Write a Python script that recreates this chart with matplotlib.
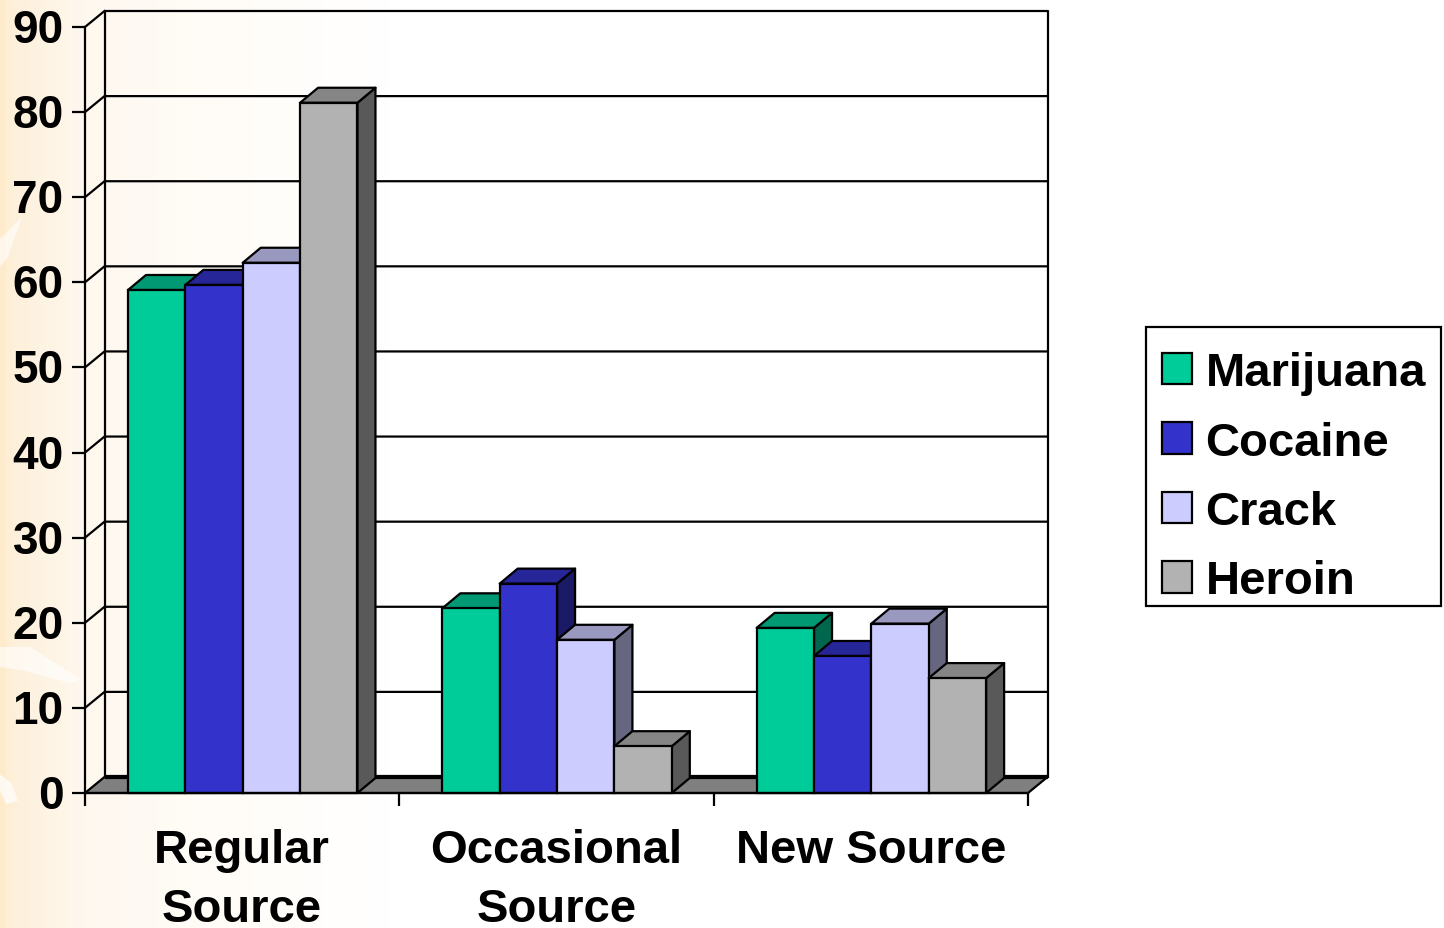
import numpy as np
import matplotlib
matplotlib.use('Agg')
import matplotlib.pyplot as plt
from matplotlib.colors import to_rgb, LinearSegmentedColormap
from matplotlib.patches import Polygon, Patch, Rectangle
from matplotlib.transforms import ScaledTranslation

plt.rcParams['font.family'] = ['Liberation Sans', 'DejaVu Sans']
plt.rcParams['font.weight'] = 'bold'

sources = ['Regular\nSource', 'Occasional\nSource', 'New Source']
drugs = ['Marijuana', 'Cocaine', 'Crack', 'Heroin']
colors = ['#00CC99', '#3333CC', '#CCCCFF', '#B2B2B2']

marijuana = [59.1, 21.7, 19.4]
cocaine = [59.7, 24.6, 16.1]
crack = [62.3, 18.0, 19.9]
heroin = [81.1, 5.5, 13.5]

W, H = 1444, 929
LW = 1.6

fig = plt.figure(figsize=(W / 100, H / 100), dpi=100, facecolor='white')

# cream wash down the left edge of the slide
bg = fig.add_axes([0, 0, 1, 1], zorder=0)
bg.axis('off')
wash = LinearSegmentedColormap.from_list('wash', [(0, '#FDEBCB'), (0.006, '#FDF0DA'), (0.03, '#FEF4E4'),
                                                  (0.058, '#FEF8EF'), (0.12, '#FFFBF5'), (0.175, '#FFFDF9'),
                                                  (0.27, '#FFFFFF'), (1, '#FFFFFF')])
bg.imshow(np.linspace(0, 1, W).reshape(1, -1), cmap=wash, aspect='auto', extent=[0, W, H, 0])
bg.set_xlim(0, W)
bg.set_ylim(H, 0)
bg.fill([0, 22, 8, 0], [240, 218, 258, 268], color='white', alpha=0.6, lw=0)
bg.fill([0, 30, 80, 70, 25, 0], [648, 648, 680, 684, 672, 668], color='white', alpha=0.6, lw=0)
bg.fill([0, 12, 18, 6, 0], [775, 785, 802, 805, 792], color='white', alpha=0.7, lw=0)

# main axes sit on the front plane of the 3D box
ax = fig.add_axes([85 / W, 1 - 794 / H, 943 / W, 766 / H], zorder=1)
ax.set_xlim(0, 3)
ax.set_ylim(0, 90)
ax.patch.set_alpha(0)

dx = 3 * 19.5 / 943      # wall depth in axis units
dy = 90 * 16 / 766
bar_dx = 3 * 18 / 943    # bar depth
bar_dy = 90 * 15 / 766
bar_w = 0.1825
offset = 0.1368

# floor and back wall
ax.add_patch(Polygon([(0, 0), (dx, dy), (3 + dx, dy), (3, 0)], closed=True, fc='#808080', ec='black',
                     lw=LW, clip_on=False, zorder=1))
ax.plot([dx, 3 + dx], [dy, dy], color='black', lw=LW * 1.9, clip_on=False, zorder=1.1, solid_capstyle='butt')
for v in range(10, 90, 10):
    ax.plot([0, dx, 3 + dx], [v, v + dy, v + dy], color='black', lw=LW, clip_on=False, zorder=1)
ax.plot([dx, dx, 3 + dx, 3 + dx], [dy, 90 + dy, 90 + dy, dy], color='black', lw=LW, clip_on=False, zorder=1)
ax.plot([0, dx], [90, 90 + dy], color='black', lw=LW, clip_on=False, zorder=1)

# bars, left to right so each front face covers the side of the one before
z = 2
for g in range(len(sources)):
    for s, values in enumerate([marijuana, cocaine, crack, heroin]):
        v = values[g]
        x0 = g + offset + s * bar_w
        x1 = x0 + bar_w
        base = np.array(to_rgb(colors[s]))
        ax.add_patch(Polygon([(x1, 0), (x1 + bar_dx, bar_dy), (x1 + bar_dx, v + bar_dy), (x1, v)], closed=True,
                             fc=base * 0.5, ec='black', lw=LW, joinstyle='round', clip_on=False, zorder=z))
        ax.add_patch(Polygon([(x0, v), (x0 + bar_dx, v + bar_dy), (x1 + bar_dx, v + bar_dy), (x1, v)], closed=True,
                             fc=base * 0.75, ec='black', lw=LW, joinstyle='round', clip_on=False, zorder=z))
        ax.bar(x0, v, width=bar_w, align='edge', color=colors[s], edgecolor='black', lw=LW, clip_on=False,
               zorder=z + 0.5)
        z += 1

for name in ['top', 'right']:
    ax.spines[name].set_visible(False)
for name in ['left', 'bottom']:
    ax.spines[name].set_linewidth(LW)
    ax.spines[name].set_zorder(z + 1)

ax.set_yticks(range(0, 100, 10))
ax.tick_params(axis='y', length=9.4, width=LW, pad=6, labelsize=33)
# nudge the value labels up so the digits centre on their ticks
nudge = ScaledTranslation(0, 2 / 100, fig.dpi_scale_trans)
for label in ax.get_yticklabels():
    label.set_transform(label.get_transform() + nudge)
ax.set_xticks(range(0, 4))
ax.set_xticklabels([])
ax.tick_params(axis='x', which='major', length=9, width=LW)
ax.set_xticks([0.5, 1.5, 2.5], minor=True)
ax.set_xticklabels(sources, minor=True, fontsize=34, linespacing=1.44)
ax.tick_params(axis='x', which='minor', length=0, pad=25)

# legend box is drawn on its own, the padding around the entries is uneven
fig.add_artist(Rectangle((1146 / W, 1 - 607 / H), 295 / W, 279 / H, transform=fig.transFigure, fc='white',
                         ec='black', lw=LW, zorder=5))
handles = [Patch(fc=c, ec='black', lw=LW) for c in colors]
leg = ax.legend(handles, drugs, loc='upper left', bbox_to_anchor=(1162 / W, 1 - 352 / H),
                bbox_transform=fig.transFigure, fontsize=34, frameon=False, borderaxespad=0, borderpad=0,
                handlelength=0.64, handleheight=0.64, handletextpad=0.28, labelspacing=0.54)
leg.set_zorder(z + 2)
ax.set_zorder(6)

fig.savefig('out.png', dpi=100)
